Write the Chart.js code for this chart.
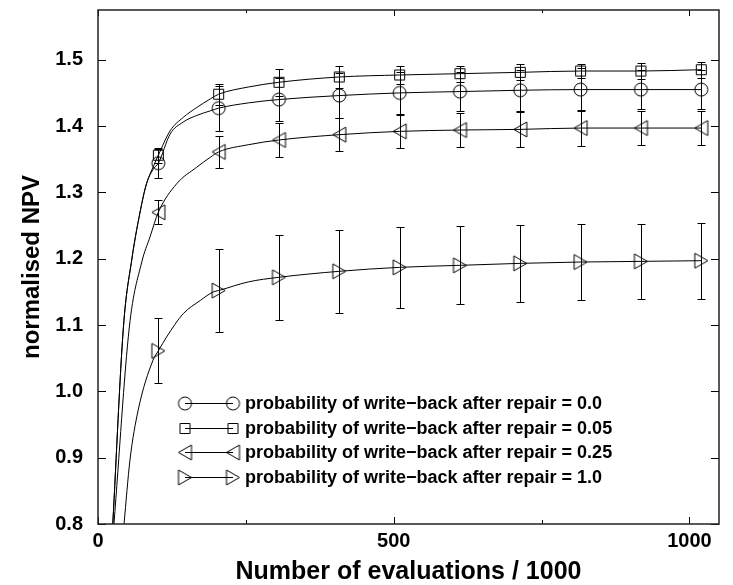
<!DOCTYPE html>
<html>
<head>
<meta charset="utf-8">
<script src="https://cdn.jsdelivr.net/npm/chart.js@4.4.1/dist/chart.umd.min.js"></script>
<style>
html,body{margin:0;padding:0;background:#ffffff;}
#wrap{width:733px;height:585px;}
</style>
</head>
<body>
<div id="wrap"><canvas id="c" width="733" height="585"></canvas></div>
<script>
// ---------------- data ----------------
const markerX = [102, 204, 306, 408, 510, 612, 714, 816, 918, 1020];

const yP000 = [1.344, 1.427, 1.440, 1.446, 1.450, 1.452, 1.454, 1.455, 1.455, 1.455];
const eP000 = [0.022, 0.034, 0.033, 0.034, 0.032, 0.030, 0.031, 0.032, 0.030, 0.030];

const yP005 = [1.356, 1.448, 1.466, 1.474, 1.477, 1.479, 1.481, 1.483, 1.483, 1.485];
const eP005 = [0.011, 0.016, 0.020, 0.016, 0.014, 0.012, 0.012, 0.011, 0.012, 0.012];

const yP025 = [1.270, 1.361, 1.379, 1.387, 1.392, 1.394, 1.395, 1.397, 1.397, 1.397];
const eP025 = [0.018, 0.024, 0.026, 0.025, 0.025, 0.025, 0.026, 0.027, 0.026, 0.025];

const yP100 = [1.061, 1.152, 1.172, 1.181, 1.187, 1.190, 1.193, 1.195, 1.196, 1.197];
const eP100 = [0.049, 0.062, 0.064, 0.063, 0.061, 0.059, 0.058, 0.058, 0.057, 0.057];

// running curves
const curveX000 = [25, 43, 57, 74, 82, 94, 102, 122, 144, 167, 190, 204, 255, 306, 408, 510, 612, 714, 816, 918, 1020];
const curveY000 = [0.80, 1.097, 1.198, 1.283, 1.313, 1.336, 1.344, 1.388, 1.406, 1.416, 1.423, 1.427, 1.435, 1.440, 1.446, 1.450, 1.452, 1.454, 1.455, 1.455, 1.455];

const curveX005 = [25, 43, 57, 74, 82, 94, 102, 122, 144, 167, 190, 204, 255, 306, 408, 510, 612, 714, 816, 918, 1020];
const curveY005 = [0.80, 1.097, 1.198, 1.283, 1.313, 1.340, 1.356, 1.393, 1.413, 1.428, 1.441, 1.448, 1.459, 1.466, 1.474, 1.477, 1.479, 1.481, 1.483, 1.483, 1.485];

const curveX025 = [27, 53, 74, 88, 102, 133, 167, 190, 204, 255, 306, 408, 510, 612, 714, 816, 918, 1020];
const curveY025 = [0.80, 1.097, 1.195, 1.233, 1.270, 1.313, 1.338, 1.353, 1.361, 1.372, 1.379, 1.387, 1.392, 1.394, 1.395, 1.397, 1.397, 1.397];

const curveX100 = [44, 54, 68, 93, 102, 116, 144, 173, 195, 204, 254, 306, 408, 510, 612, 714, 816, 918, 1020];
const curveY100 = [0.80, 0.896, 0.972, 1.047, 1.061, 1.082, 1.117, 1.137, 1.150, 1.152, 1.165, 1.172, 1.181, 1.187, 1.190, 1.193, 1.195, 1.196, 1.197];

const seriesLabels = [
  "probability of write\u2212back after repair = 0.0",
  "probability of write\u2212back after repair = 0.05",
  "probability of write\u2212back after repair = 0.25",
  "probability of write\u2212back after repair = 1.0"
];

const xTickValues = [0, 500, 1000];
const xMinorTickValues = [250, 750];
const yTickValues = [0.8, 0.9, 1.0, 1.1, 1.2, 1.3, 1.4, 1.5];
const xTitle = "Number of evaluations / 1000";
const yTitle = "normalised NPV";

// ---------------- marker glyphs ----------------
function makeMarker(kind) {
  const cv = document.createElement('canvas');
  cv.width = 19; cv.height = 19;
  const g = cv.getContext('2d');
  g.strokeStyle = '#000'; g.lineWidth = 1;
  g.beginPath();
  if (kind === 'circle') {
    g.arc(9.5, 9.5, 6.5, 0, Math.PI * 2);
  } else if (kind === 'square') {
    g.rect(4.5, 4.5, 10, 10);
  } else if (kind === 'left') {
    g.moveTo(3, 9.5); g.lineTo(16, 2); g.lineTo(16, 17); g.closePath();
  } else {
    g.moveTo(16, 9.5); g.lineTo(3, 2); g.lineTo(3, 17); g.closePath();
  }
  g.stroke();
  return cv;
}
const markers = [makeMarker('circle'), makeMarker('square'), makeMarker('left'), makeMarker('right')];

const series = [
  {y: yP000, e: eP000, cx: curveX000, cy: curveY000},
  {y: yP005, e: eP005, cx: curveX005, cy: curveY005},
  {y: yP025, e: eP025, cx: curveX025, cy: curveY025},
  {y: yP100, e: eP100, cx: curveX100, cy: curveY100}
];

const datasets = [];
series.forEach((s, i) => {
  datasets.push({
    label: seriesLabels[i] + ' (curve)',
    data: s.cx.map((x, k) => ({x: x, y: s.cy[k]})),
    showLine: true,
    borderColor: '#000', borderWidth: 1,
    pointRadius: 0, pointHoverRadius: 0, fill: false,
    cubicInterpolationMode: 'monotone'
  });
  datasets.push({
    label: seriesLabels[i],
    data: markerX.map((x, k) => ({x: x, y: s.y[k]})),
    showLine: false,
    pointStyle: markers[i],
    pointRadius: 8,
    pointHoverRadius: 8
  });
});

const FONT = "'Liberation Sans', Arial, Helvetica, sans-serif";

const decor = {
  id: 'decor',
  afterDatasetsDraw(chart) {
    const ctx = chart.ctx, a = chart.chartArea;
    const xs = chart.scales.x, ys = chart.scales.y;
    ctx.save();
    ctx.strokeStyle = '#000';
    ctx.lineWidth = 1;
    // error bars
    series.forEach(s => {
      s.e.forEach((e, k) => {
        const px = Math.round(xs.getPixelForValue(markerX[k])) + 0.5;
        const y1 = Math.round(ys.getPixelForValue(s.y[k] + e)) + 0.5;
        const y2 = Math.round(ys.getPixelForValue(s.y[k] - e)) + 0.5;
        ctx.beginPath();
        ctx.moveTo(px, y1); ctx.lineTo(px, y2);
        ctx.moveTo(px - 4, y1); ctx.lineTo(px + 4, y1);
        ctx.moveTo(px - 4, y2); ctx.lineTo(px + 4, y2);
        ctx.stroke();
      });
    });
    // inner tick marks
    ctx.beginPath();
    xTickValues.forEach(v => {
      const px = Math.round(xs.getPixelForValue(v)) + 0.5;
      ctx.moveTo(px, a.bottom); ctx.lineTo(px, a.bottom - 7);
      ctx.moveTo(px, a.top); ctx.lineTo(px, a.top + 6);
    });
    xMinorTickValues.forEach(v => {
      const px = Math.round(xs.getPixelForValue(v)) + 0.5;
      ctx.moveTo(px, a.bottom); ctx.lineTo(px, a.bottom - 4);
      ctx.moveTo(px, a.top); ctx.lineTo(px, a.top + 3);
    });
    yTickValues.forEach(v => {
      const py = Math.round(ys.getPixelForValue(v)) + 0.5;
      ctx.moveTo(a.left, py); ctx.lineTo(a.left + 8, py);
      ctx.moveTo(a.right, py); ctx.lineTo(a.right - 8, py);
    });
    ctx.stroke();
    // frame
    ctx.lineWidth = 1.5;
    ctx.strokeStyle = '#222';
    ctx.strokeRect(a.left, a.top, a.right - a.left, a.bottom - a.top);
    // legend
    const lx1 = 185, lx2 = 233, tx = 245, rowY = [403, 428, 452, 477];
    ctx.lineWidth = 1;
    ctx.strokeStyle = '#000';
    ctx.fillStyle = '#000';
    ctx.font = "bold 18px " + FONT;
    ctx.textBaseline = 'middle';
    ctx.textAlign = 'left';
    seriesLabels.forEach((lab, i) => {
      const yy = rowY[i] + 0.5;
      ctx.beginPath(); ctx.moveTo(lx1, yy); ctx.lineTo(lx2, yy); ctx.stroke();
      const m = markers[i];
      ctx.drawImage(m, lx1 - m.width / 2, rowY[i] - m.height / 2 + 0.5);
      ctx.drawImage(m, lx2 - m.width / 2, rowY[i] - m.height / 2 + 0.5);
      ctx.fillText(lab, tx, rowY[i] + 1);
    });
    ctx.restore();
  }
};

function zeroPad(s) {
  s.paddingTop = 0; s.paddingBottom = 0; s.paddingLeft = 0; s.paddingRight = 0;
}

new Chart(document.getElementById('c'), {
  type: 'scatter',
  data: {datasets: datasets},
  options: {
    responsive: false,
    animation: false,
    devicePixelRatio: 1,
    layout: {padding: {top: 10, right: 14, left: 0, bottom: 0}},
    plugins: {legend: {display: false}, tooltip: {enabled: false}},
    elements: {line: {tension: 0}},
    scales: {
      x: {
        type: 'linear', min: 0, max: 1050,
        afterBuildTicks: s => { s.ticks = xTickValues.map(v => ({value: v})); },
        afterFit: s => { s.height = 61; zeroPad(s); },
        grid: {display: false, drawTicks: false},
        border: {display: false},
        ticks: {
          color: '#000', padding: 5, maxRotation: 0, autoSkip: false,
          font: {family: FONT, size: 20, weight: 'bold'},
          callback: v => String(v)
        },
        title: {
          display: true, text: xTitle, color: '#000',
          font: {family: FONT, size: 25, weight: 'bold', lineHeight: 1},
          padding: {top: 0, bottom: 0}
        }
      },
      y: {
        type: 'linear', min: 0.8, max: 1.575,
        afterBuildTicks: s => { s.ticks = yTickValues.map(v => ({value: v})); },
        afterFit: s => { s.width = 98; zeroPad(s); },
        grid: {display: false, drawTicks: false},
        border: {display: false},
        ticks: {
          color: '#000', padding: 15, autoSkip: false,
          font: {family: FONT, size: 20, weight: 'bold'},
          callback: v => Number(v).toFixed(1)
        },
        title: {
          display: true, text: yTitle, color: '#000',
          font: {family: FONT, size: 24, weight: 'bold', lineHeight: 1},
          padding: {top: 20, bottom: 0}
        }
      }
    }
  },
  plugins: [decor]
});
</script>
</body>
</html>
